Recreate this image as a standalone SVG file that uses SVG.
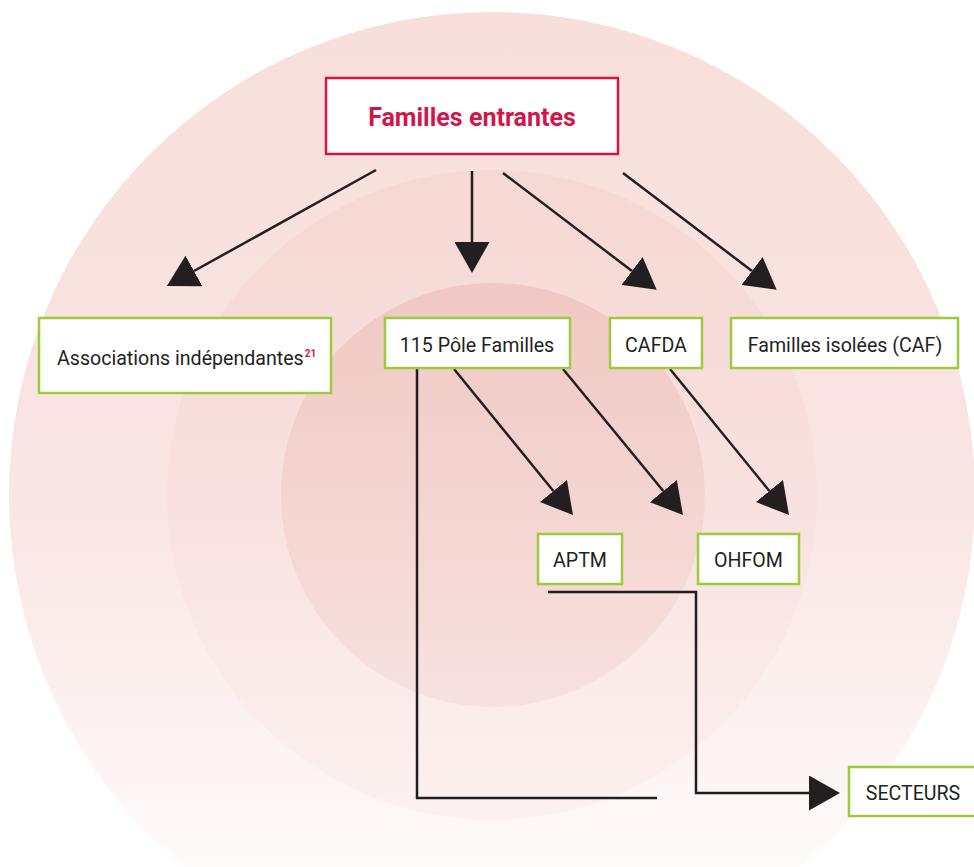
<svg xmlns="http://www.w3.org/2000/svg" width="974" height="867" viewBox="0 0 974 867">
<style>
.node-g rect{fill:#fff;stroke:#9dcb3b;stroke-width:2.5}
.node-r rect{fill:#fff;stroke:#d2164a;stroke-width:2.5}
.lbl{font-family:Roboto,"Noto Sans",sans-serif;font-size:19.6px;fill:#231f20}
.title{font-family:Roboto,"Noto Sans",sans-serif;font-size:25px;font-weight:bold;fill:#d2164a}
.sup{font-family:Roboto,"Noto Sans",sans-serif;font-size:10px;font-weight:bold;fill:#d2164a}
.conn{fill:none;stroke:#231f20;stroke-width:2.5}
</style>
<defs>
<linearGradient id="g1" x1="0" y1="0" x2="0" y2="1">
<stop offset="0" stop-color="#f8dfdb"/>
<stop offset="0.5" stop-color="#f9e5e2"/>
<stop offset="0.88" stop-color="#fefafa"/>
<stop offset="1" stop-color="#ffffff"/>
</linearGradient>
<linearGradient id="g2" x1="0" y1="0" x2="0" y2="1">
<stop offset="0" stop-color="#f6d8d4"/>
<stop offset="0.5" stop-color="#f8e1de"/>
<stop offset="1" stop-color="#fcf2f1"/>
</linearGradient>
<linearGradient id="g3" x1="0" y1="0" x2="0" y2="1">
<stop offset="0" stop-color="#f1c8c3"/>
<stop offset="0.5" stop-color="#f4d4d0"/>
<stop offset="1" stop-color="#f7e2e0"/>
</linearGradient>
<marker id="ah" viewBox="0 0 31 35" refX="0" refY="17.5" markerUnits="userSpaceOnUse" markerWidth="31" markerHeight="35" orient="auto">
<path d="M0,0 L31,17.5 L0,35 Z" fill="#231f20"/>
</marker>
</defs>
<rect width="974" height="867" fill="#fff"/>
<g id="background">
<circle cx="492" cy="495" r="483" fill="url(#g1)"/>
<circle cx="492" cy="495" r="325" fill="url(#g2)"/>
<circle cx="493" cy="495" r="212" fill="url(#g3)"/>
</g>
<g id="connectors">
<line class="conn" x1="376" y1="170" x2="194" y2="271" marker-end="url(#ah)"/>
<line class="conn" x1="472" y1="171" x2="472" y2="242" marker-end="url(#ah)"/>
<line class="conn" x1="503" y1="173" x2="632" y2="271" marker-end="url(#ah)"/>
<line class="conn" x1="623" y1="173" x2="752" y2="271" marker-end="url(#ah)"/>
<line class="conn" x1="454" y1="369" x2="553.4" y2="491" marker-end="url(#ah)"/>
<line class="conn" x1="563" y1="369" x2="663.3" y2="491" marker-end="url(#ah)"/>
<line class="conn" x1="670" y1="369" x2="769.4" y2="491" marker-end="url(#ah)"/>
<polyline class="conn" points="548,592 696,592 696,793 809,793" marker-end="url(#ah)"/>
<polyline class="conn" points="417,368 417,798 657,798"/>
</g>
<g id="n-familles-entrantes" class="node-r">
<rect x="326" y="78" width="292" height="76"/>
<text class="title" x="472" y="126" text-anchor="middle">Familles entrantes</text>
</g>
<g id="n-associations" class="node-g">
<rect x="39" y="318" width="292" height="75"/>
<text class="lbl" x="57" y="365">Associations indépendantes<tspan class="sup" dx="1" dy="-8">21</tspan></text>
</g>
<g id="n-115" class="node-g">
<rect x="385" y="318" width="185" height="50"/>
<text class="lbl" x="477" y="352" text-anchor="middle">115 Pôle Familles</text>
</g>
<g id="n-cafda" class="node-g">
<rect x="610" y="318" width="92" height="50"/>
<text class="lbl" x="656" y="352" text-anchor="middle">CAFDA</text>
</g>
<g id="n-familles-isolees" class="node-g">
<rect x="731" y="318" width="227" height="50"/>
<text class="lbl" x="845" y="352" text-anchor="middle">Familles isolées (CAF)</text>
</g>
<g id="n-aptm" class="node-g">
<rect x="538" y="534" width="84" height="50"/>
<text class="lbl" x="580" y="567" text-anchor="middle">APTM</text>
</g>
<g id="n-ohfom" class="node-g">
<rect x="698" y="534" width="101" height="50"/>
<text class="lbl" x="748.5" y="567" text-anchor="middle">OHFOM</text>
</g>
<g id="n-secteurs" class="node-g">
<rect x="849" y="767" width="130" height="49"/>
<text class="lbl" x="913" y="800" text-anchor="middle">SECTEURS</text>
</g>
</svg>
